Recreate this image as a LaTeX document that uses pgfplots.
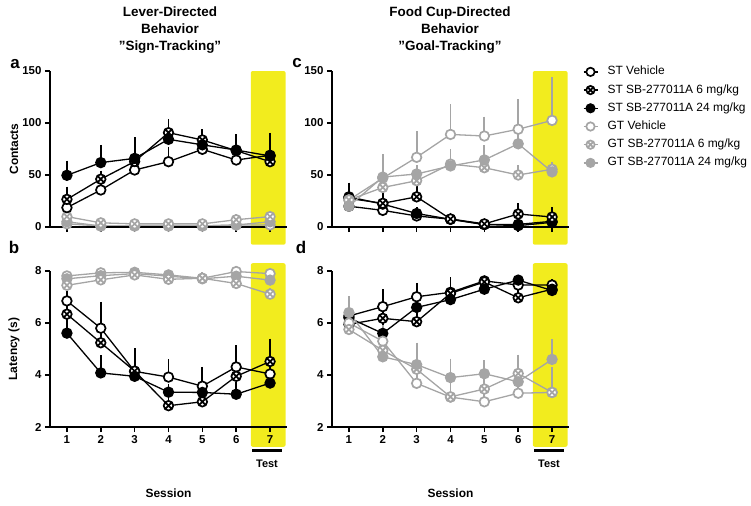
\documentclass[border=0pt]{standalone}
\usepackage{pgfplots}
\pgfplotsset{compat=1.18}
\usepackage{pgfplotstable}
\usepackage{fontspec}
\setmainfont{Liberation Sans}
\usetikzlibrary{plotmarks}
\definecolor{yel}{RGB}{242,236,30}
\definecolor{gy}{RGB}{165,165,165}
% panel a: contacts, sign-tracking
\pgfplotstableread{
x stv stve st6 st6e st24 st24e gtv gtve gt6 gt6e gt24 gt24e
1 18.6 3 26.6 9 49.7 11 3 1 10 2 5 1
2 35.6 3 46 5 61.9 14 1 1 4 1 1 1
3 54.8 4 63 5 66 17 1 1 3 1 1 1
4 62.8 11 90.7 10 84.3 5 1 1 3 1 1 1
5 74.7 4 83.7 7 79 5 1 1 3 1 1 1
6 64.4 6 73.4 5 74 12 2 1 7 2 2 1
7 69 12 62.8 8 68.3 19 2 1 10 2 5 1
}\tabA
% panel b: latency, lever
\pgfplotstableread{
x stv stve st6 st6e st24 st24e gtv gtve gt6 gt6e gt24 gt24e
1 6.85 0.25 6.34 0.3 5.61 0.4 7.81 0.05 7.45 0.1 7.7 0.05
2 5.80 0.89 5.24 0.3 4.08 0.55 7.93 0.05 7.66 0.1 7.82 0.05
3 4.14 0.5 4.15 0.75 3.95 0.3 7.95 0.05 7.85 0.1 7.9 0.05
4 3.92 0.56 2.82 0.2 3.34 0.2 7.85 0.05 7.68 0.1 7.8 0.05
5 3.57 0.62 2.97 0.1 3.33 0.2 7.72 0.05 7.72 0.1 7.7 0.05
6 4.31 0.7 3.95 0.7 3.26 0.35 7.98 0.05 7.52 0.1 7.8 0.05
7 4.04 0.1 4.52 0.75 3.69 0.6 7.9 0.05 7.11 0.1 7.65 0.05
}\tabB
% panel c: contacts, food cup
\pgfplotstableread{
x stv stve st6 st6e st24 st24e gtv gtve gt6 gt6e gt24 gt24e
1 20 2 27.5 3 29 10.4 26 3 26 3 20 3
2 16 2 22.8 4 22 8 47 20 38 8 48 19
3 10.6 2 29 8 13 3 67 22 44.5 5 51 5
4 7.5 2 7.7 3 7.4 2 89 26 60.5 11.5 58.7 8
5 2.5 1 3 2 2.3 1 87.5 15.5 57 3 64.5 11
6 1.3 1 12.5 7 2.5 1 94 25.5 50 6 80 23.5
7 4.5 2 9.6 6.4 5.5 3 102.5 38.5 55.5 4 53 5
}\tabC
% panel d: latency, food cup
\pgfplotstableread{
x stv stve st6 st6e st24 st24e gtv gtve gt6 gt6e gt24 gt24e
1 6.27 0.3 5.95 0.2 6.2 0.4 6.0 0.3 5.75 0.3 6.4 0.5
2 6.63 0.54 6.18 0.8 5.6 0.3 5.3 0.5 4.95 0.4 4.7 0.4
3 7.01 0.41 6.05 0.3 6.6 0.5 3.68 0.5 4.22 0.9 4.4 0.7
4 7.18 0.45 7.14 0.4 6.9 0.3 3.15 0.4 3.16 0.35 3.9 0.6
5 7.62 0.05 7.58 0.05 7.3 0.1 2.97 0.3 3.46 0.5 4.05 0.4
6 7.46 0.1 6.97 0.2 7.65 0.05 3.3 0.3 4.06 0.6 3.74 0.5
7 7.46 0.1 7.3 0.2 7.25 0.2 3.33 0.2 3.33 0.85 4.6 0.65
}\tabD
\pgfplotsset{
  myax/.style={scale only axis, width=237bp, height=156bp, xmin=0.5, xmax=7.5,
    axis lines*=left, axis line style={line width=2.3bp,-}, tick style={line width=1.6bp,black},
    major tick length=5bp, tick align=outside, xtick={1,...,7}, clip=false,
    ticklabel style={font=\fontsize{11.5}{13}\selectfont\bfseries},
    /pgf/number format/assume math mode=true, axis on top,
    ylabel style={font=\fontsize{12}{14}\selectfont\bfseries, at={(axis description cs:-0.152,0.5)}, anchor=center},
    xlabel style={font=\fontsize{12}{14}\selectfont\bfseries, at={(axis description cs:0.5,0)}, anchor=center, yshift=-66bp},
  },
  eb/.style={error bars/y dir=plus, error bars/y explicit, error bars/error mark=-,
    error bars/error bar style={line width=1.8bp},
    error bars/error mark options={line width=1.8bp, mark size=3.3bp}},
  base/.style={line width=1.3bp, mark size=4.8bp},
  stv/.style={base, black, mark=*, mark options={fill=white, draw=black, line width=1.7bp}},
  st6/.style={base, black, mark=otimes*, mark options={fill=white, draw=black, line width=1.7bp}},
  st24/.style={base, black, mark=*, mark options={fill=black, draw=black, line width=1.7bp}},
  gtv/.style={base, gy, mark=*, mark options={fill=white, draw=gy, line width=1.7bp}},
  gt6/.style={base, gy, mark=otimes*, mark options={fill=white, draw=gy, line width=1.7bp}},
  gt24/.style={base, gy, mark=*, mark options={fill=gy, draw=gy, line width=1.7bp}},
}
% one series: line with upward error bars, then markers on top
\newcommand\series[3]{%
  \addplot[#1, eb, mark=none, forget plot] table[x=x, y=#3, y error=#3e] {#2};
  \addplot[#1, only marks, forget plot] table[x=x, y=#3] {#2};
}
\begin{document}
\begin{tikzpicture}
\path[use as bounding box] (0,0) rectangle (751bp,-506bp);
% titles
\node[align=center, font=\fontsize{13.5}{16.7}\selectfont\bfseries] at (170bp,-30bp) {Lever-Directed\\Behavior\\"Sign-Tracking"};
\node[align=center, font=\fontsize{13.5}{16.7}\selectfont\bfseries] at (450bp,-30bp) {Food Cup-Directed\\Behavior\\"Goal-Tracking"};
\node[font=\fontsize{17}{18}\selectfont\bfseries] at (15bp,-64bp) {a};
\node[font=\fontsize{17}{18}\selectfont\bfseries] at (14bp,-247bp) {b};
\node[font=\fontsize{17}{18}\selectfont\bfseries] at (297bp,-63bp) {c};
\node[font=\fontsize{17}{18}\selectfont\bfseries] at (301bp,-247bp) {d};

% ---------- panel a ----------
\begin{axis}[myax, at={(50bp,-227bp)}, anchor=south west, ymin=0, ymax=150, ytick={0,50,100,150},
  xticklabels={}, ylabel={Contacts}]
\fill[yel, rounded corners=2bp] (axis cs:6.43,-17) rectangle (axis cs:7.46,150);
\series{gtv}{\tabA}{gtv}
\series{gt24}{\tabA}{gt24}
\series{gt6}{\tabA}{gt6}
\series{stv}{\tabA}{stv}
\series{st6}{\tabA}{st6}
\series{st24}{\tabA}{st24}
\end{axis}

% ---------- panel b ----------
\begin{axis}[myax, at={(50bp,-427bp)}, anchor=south west, ymin=2, ymax=8, ytick={2,4,6,8},
  ylabel={Latency (s)}, xlabel={Session}]
\fill[yel, rounded corners=2bp] (axis cs:6.43,1.24) rectangle (axis cs:7.46,8.3);
\series{gtv}{\tabB}{gtv}
\series{gt24}{\tabB}{gt24}
\series{gt6}{\tabB}{gt6}
\series{stv}{\tabB}{stv}
\series{st6}{\tabB}{st6}
\series{st24}{\tabB}{st24}
\draw[line width=3bp] (axis cs:6.47,1.08) -- (axis cs:7.35,1.08);
\node[font=\fontsize{11}{12}\selectfont\bfseries] at (axis cs:6.91,0.6) {Test};
\end{axis}

% ---------- panel c ----------
\begin{axis}[myax, at={(332bp,-227bp)}, anchor=south west, ymin=0, ymax=150, ytick={0,50,100,150},
  xticklabels={},
  legend style={at={(1.045,1.05)}, anchor=north west, draw=none, fill=none,
    font=\fontsize{12}{14}\selectfont, row sep=5.2bp,
    nodes={text height=9bp, text depth=3bp, inner sep=0.5bp},
    /tikz/every odd column/.append style={column sep=9bp}},
  legend cell align=left,
  legend image code/.code={\draw[mark repeat=2, mark phase=2, mark size=4.2bp] plot coordinates {(0bp,0bp) (7bp,0bp) (14bp,0bp)};}]
\addlegendimage{stv}
\addlegendimage{st6}
\addlegendimage{st24}
\addlegendimage{gtv}
\addlegendimage{gt6}
\addlegendimage{gt24}
\legend{ST Vehicle, ST SB-277011A 6 mg/kg, ST SB-277011A 24 mg/kg, GT Vehicle, GT SB-277011A 6 mg/kg, GT SB-277011A 24 mg/kg}
\fill[yel, rounded corners=2bp] (axis cs:6.43,-17) rectangle (axis cs:7.46,150);
\series{stv}{\tabC}{stv}
\series{st24}{\tabC}{st24}
\series{st6}{\tabC}{st6}
\series{gtv}{\tabC}{gtv}
\series{gt6}{\tabC}{gt6}
\series{gt24}{\tabC}{gt24}
\end{axis}

% ---------- panel d ----------
\begin{axis}[myax, at={(332bp,-427bp)}, anchor=south west, ymin=2, ymax=8, ytick={2,4,6,8},
  xlabel={Session}]
\fill[yel, rounded corners=2bp] (axis cs:6.43,1.24) rectangle (axis cs:7.46,8.3);
\series{stv}{\tabD}{stv}
\series{st6}{\tabD}{st6}
\series{st24}{\tabD}{st24}
\series{gtv}{\tabD}{gtv}
\series{gt6}{\tabD}{gt6}
\series{gt24}{\tabD}{gt24}
\draw[line width=3bp] (axis cs:6.47,1.08) -- (axis cs:7.35,1.08);
\node[font=\fontsize{11}{12}\selectfont\bfseries] at (axis cs:6.91,0.6) {Test};
\end{axis}
\end{tikzpicture}
\end{document}
